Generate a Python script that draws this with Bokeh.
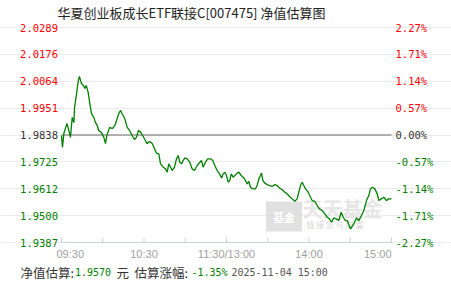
from bokeh.plotting import figure
from bokeh.models import Range1d, FixedTicker, Label
from bokeh.embed import file_html
from bokeh.resources import INLINE

# ---------------- data ----------------
title_text = "华夏创业板成长ETF联接C[007475] 净值估算图"
base_nav = 1.9838
y_ticks = [2.0289, 2.0176, 2.0064, 1.9951, 1.9838, 1.9725, 1.9612, 1.9500, 1.9387]
y_tick_labels = ["2.0289", "2.0176", "2.0064", "1.9951", "1.9838", "1.9725", "1.9612", "1.9500", "1.9387"]
pct_tick_labels = ["2.27%", "1.71%", "1.14%", "0.57%", "0.00%", "-0.57%", "-1.14%", "-1.71%", "-2.27%"]
x_ticks = [0, 30, 60, 90, 120, 150, 180, 210, 240]
x_label_pos = [0, 60, 120, 180, 240]
x_labels = ["09:30", "10:30", "11:30/13:00", "14:00", "15:00"]

# trading minutes since 09:30 (lunch break removed)
times = [0, 0.7, 1.7, 4, 5, 6.5, 7.8, 9, 9.5, 11,
         12, 13, 14.5, 16, 17, 18, 19.4, 20.6, 21.8, 23.5,
         24.7, 26, 27, 29, 30.8, 32, 33, 35, 37, 38.8,
         40.5, 41.7, 43, 44, 46, 47.8, 49.5, 51.4, 53, 54.5,
         56, 57.7, 59, 60.6, 62.3, 64, 66, 67.9, 69, 70.8,
         72, 74, 75.6, 76.9, 78, 79.3, 80.5, 82.2, 83.6, 84.9,
         86, 87.3, 88.5, 89.7, 91.4, 93.3, 95, 96.7, 98.7, 100.6,
         101.8, 103, 104.7, 106.4, 108.4, 110, 111.5, 113.2, 115, 116.4,
         117.6, 118.8, 120, 121.2, 122.4, 123.4, 124.9, 126, 127.8, 129,
         130.7, 132.6, 133.8, 135, 136.2, 137.5, 139, 141, 142.3, 143.5,
         144.7, 145.5, 146.4, 147.9, 149.6, 151.3, 153.2, 155.1, 156.9, 158.5,
         160.5, 162.4, 164.1, 165.8, 167.8, 169.7, 171.4, 172.6, 173.8, 175.1,
         176.2, 177.5, 179.4, 181.1, 182.3, 184.2, 186, 187.6, 189.6, 191.5,
         193.2, 194.9, 196.4, 198, 199.8, 201.7, 203.4, 204.9, 206.5, 207.8,
         210.2, 212.6, 214.5, 216.2, 218.2, 219.9, 221.8, 223.5, 224.7, 226,
         227.9, 229.6, 230.8, 232.5, 234.4, 236.4, 238, 240]
nav = [1.9836, 1.9786, 1.9844, 1.9886, 1.9865, 1.9828, 1.9912, 1.9890, 1.9954, 2.0012,
       2.0059, 2.0084, 2.0054, 2.0046, 2.0033, 2.0046, 2.0017, 1.9970, 1.9928, 1.9912,
       1.9890, 1.9878, 1.9857, 1.9849, 1.9828, 1.9802, 1.9836, 1.9870, 1.9865, 1.9878,
       1.9907, 1.9928, 1.9941, 1.9928, 1.9907, 1.9870, 1.9857, 1.9836, 1.9819, 1.9828,
       1.9857, 1.9849, 1.9836, 1.9819, 1.9802, 1.9811, 1.9802, 1.9777, 1.9762, 1.9759,
       1.9717, 1.9703, 1.9696, 1.9682, 1.9717, 1.9703, 1.9689, 1.9703, 1.9738, 1.9752,
       1.9724, 1.9717, 1.9731, 1.9742, 1.9738, 1.9724, 1.9696, 1.9689, 1.9710, 1.9724,
       1.9731, 1.9703, 1.9724, 1.9738, 1.9738, 1.9731, 1.9710, 1.9689, 1.9675, 1.9658,
       1.9675, 1.9682, 1.9668, 1.9640, 1.9647, 1.9675, 1.9661, 1.9668, 1.9678, 1.9682,
       1.9668, 1.9658, 1.9647, 1.9633, 1.9643, 1.9619, 1.9612, 1.9612, 1.9626, 1.9654,
       1.9668, 1.9678, 1.9647, 1.9636, 1.9630, 1.9626, 1.9622, 1.9630, 1.9626, 1.9616,
       1.9608, 1.9598, 1.9591, 1.9580, 1.9570, 1.9560, 1.9570, 1.9598, 1.9626, 1.9640,
       1.9626, 1.9612, 1.9598, 1.9577, 1.9563, 1.9560, 1.9542, 1.9528, 1.9521, 1.9507,
       1.9493, 1.9486, 1.9472, 1.9490, 1.9486, 1.9479, 1.9514, 1.9493, 1.9479, 1.9479,
       1.9444, 1.9465, 1.9490, 1.9479, 1.9500, 1.9521, 1.9563, 1.9584, 1.9612, 1.9619,
       1.9612, 1.9591, 1.9563, 1.9570, 1.9577, 1.9563, 1.9570, 1.9570]

est_nav_text = "1.9570"
est_pct_text = "-1.35%"
est_time_text = "2025-11-04 15:00"

# ---------------- layout ----------------
W, H = 451, 281
L, R, T, B = 61, 391, 27, 242          # plot area inside the canvas
y_hi, y_lo = max(y_ticks), min(y_ticks)
x_lo, x_hi = x_ticks[0], x_ticks[-1]

RED = "#ff0000"
GREEN = "#008000"
DARK = "#333333"
MONO = "DejaVu Sans Mono"
CJK = "Noto Sans CJK SC"
AXIS_C = "#c3d3e3"


def sx(px):
    return x_lo + (px - L) / (R - L) * (x_hi - x_lo)


def sy(py):
    return y_hi - (py - T) / (B - T) * (y_hi - y_lo)


# the frame covers the whole canvas so that texts around the plot area are not clipped
p = figure(width=W, height=H, output_backend="svg", toolbar_location=None,
           x_range=Range1d(sx(0), sx(W)), y_range=Range1d(sy(H), sy(0)),
           min_border=0)
p.outline_line_color = None
p.background_fill_color = "white"
p.border_fill_color = "white"
p.axis.visible = False
p.xgrid.visible = False

p.ygrid.ticker = FixedTicker(ticks=y_ticks)
p.ygrid.bounds = (x_lo, x_hi)
p.ygrid.grid_line_color = "#d6d6d6"
p.ygrid.grid_line_dash = "1 1"

# watermark
p.add_layout(Label(x=sx(283.5), y=sy(216), text="基金", text_align="center", text_baseline="middle",
                   text_font=CJK, text_font_size="11px", text_font_style="bold", text_color="white",
                   background_fill_color="#d8d8d8", background_fill_alpha=0.8, padding=7,
                   level="underlay"))
p.add_layout(Label(x=sx(302), y=sy(208), text="天天基金", text_align="left", text_baseline="middle",
                   text_font=CJK, text_font_size="20px", text_font_style="bold", text_color="#e6e6e6",
                   level="underlay"))
p.add_layout(Label(x=sx(306), y=sy(224), text="链 接 您 与 财 富", text_align="left", text_baseline="middle",
                   text_font=CJK, text_font_size="8px", text_color="#d6d6d6", level="underlay"))

# x axis line and ticks
p.segment(x0=[x_lo], y0=[y_lo], x1=[x_hi], y1=[y_lo], line_color=AXIS_C, line_width=1)
tick_len = sy(B - 5) - sy(B)
p.segment(x0=x_ticks, y0=[y_lo] * len(x_ticks), x1=x_ticks, y1=[y_lo + tick_len] * len(x_ticks),
          line_color=AXIS_C, line_width=1)

# base (0.00%) line
p.line([x_lo, x_hi], [base_nav, base_nav], line_color="#999999", line_width=1.5)

# NAV line
p.line(times, nav, line_color=GREEN, line_width=1.3)

# y labels (left values, right percentages)
for v, lab, pct in zip(y_ticks, y_tick_labels, pct_tick_labels):
    col = RED if v > base_nav else (DARK if v == base_nav else GREEN)
    p.add_layout(Label(x=sx(57.5), y=v, text=lab, text_align="right", text_baseline="middle",
                       text_font=MONO, text_font_size="10.5px", text_color=col))
    p.add_layout(Label(x=sx(395), y=v, text=pct, text_align="left", text_baseline="middle",
                       text_font=MONO, text_font_size="10.5px", text_color=col))

# x labels
for xp, lab in zip(x_label_pos, x_labels):
    align = "left" if xp == x_lo else ("right" if xp == x_hi else "center")
    xx = sx(56) if xp == x_lo else xp
    p.add_layout(Label(x=xx, y=sy(253), text=lab, text_align=align, text_baseline="middle",
                       text_font="Liberation Sans", text_font_size="11px", text_color="#a0a0a0"))

# title
p.add_layout(Label(x=sx(57), y=sy(11.5), text=title_text, text_align="left", text_baseline="middle",
                   text_font=CJK, text_font_size="13px", text_color="#222222"))

# footer
footer = [(20, "净值估算:", CJK, DARK), (74.5, est_nav_text, MONO, GREEN), (116, "元", CJK, DARK),
          (134, "估算涨幅:", CJK, DARK), (191, est_pct_text, MONO, GREEN), (231, est_time_text, MONO, "#555555")]
for xpx, txt, fnt, col in footer:
    p.add_layout(Label(x=sx(xpx), y=sy(271.5), text=txt, text_align="left", text_baseline="middle",
                       text_font=fnt, text_font_size="12.5px" if fnt == CJK else "10px", text_color=col))

open("out.html", "w").write(file_html(p, INLINE))
